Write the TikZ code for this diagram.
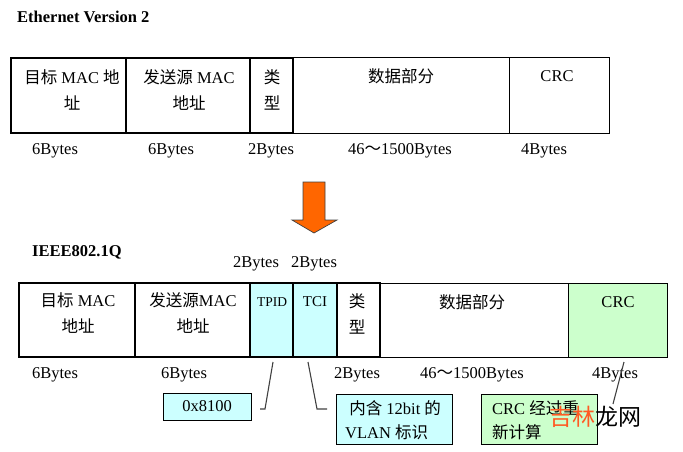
\documentclass[tikz,border=0pt]{standalone}
\usepackage{fontspec}
\setmainfont{Liberation Serif}
\newfontfamily\cjk{Noto Sans CJK SC}
\definecolor{lcyan}{HTML}{CCFFFF}
\definecolor{lgreen}{HTML}{CCFFCC}
\definecolor{arroworange}{HTML}{FF6600}
\definecolor{wmorange}{HTML}{FF5A23}
\definecolor{linegray}{HTML}{404040}
\begin{document}
\begin{tikzpicture}[x=1pt,y=-1pt,
  font=\fontsize{16.5}{26}\selectfont,
  fieldthick/.style={draw, line width=2.2pt, inner sep=0, outer sep=0, anchor=north west},
  fieldthin/.style={draw, line width=1pt, inner sep=0, outer sep=0, anchor=north west},
  calloutbox/.style={draw, line width=1pt, inner sep=0, outer sep=0, anchor=north west},
  lbl/.style={inner sep=0, align=center},
  conn/.style={draw=linegray, line width=1.1pt}]
\useasboundingbox (0,0) rectangle (683,452);

% titles
\node[lbl, anchor=west, font=\bfseries\fontsize{16.5}{20}\selectfont] (title1) at (17,16.5) {Ethernet Version 2};
\node[lbl, anchor=west, font=\bfseries\fontsize{16.5}{20}\selectfont] (title2) at (32,252) {IEEE802.1Q};

% ---- top frame ----
\node[fieldthin, minimum width=216pt, minimum height=75pt] (a4) at (293,58) {};
\node[fieldthin, minimum width=100pt, minimum height=75pt] (a5) at (509,58) {};
\node[fieldthick, minimum width=115pt, minimum height=75pt] (a1) at (11,58) {};
\node[fieldthick, minimum width=124pt, minimum height=75pt] (a2) at (126,58) {};
\node[fieldthick, minimum width=43pt, minimum height=75pt] (a3) at (250,58) {};

\node[lbl] (ta1) at (72,90) {{\cjk 目标} MAC {\cjk 地}\\{\cjk 址}};
\node[lbl] (ta2) at (189,90) {{\cjk 发送源} MAC\\{\cjk 地址}};
\node[lbl] (ta3) at (272,90) {{\cjk 类}\\{\cjk 型}};
\node[lbl] (ta4) at (401,76) {\cjk 数据部分};
\node[lbl] (ta5) at (557,76) {CRC};

\node[lbl] (la1) at (55,151) {6Bytes};
\node[lbl] (la2) at (171,151) {6Bytes};
\node[lbl] (la3) at (271,151) {2Bytes};
\node[lbl] (la4) at (400,151) {46{\cjk ～}1500Bytes};
\node[lbl] (la5) at (544,151) {4Bytes};

% ---- arrow ----
\draw[fill=arroworange, draw=gray!50!black, line width=0.7pt]
  (303,182) -- (325,182) -- (325,220) -- (337,220) -- (314,233) -- (292,220) -- (303,220) -- cycle;

% ---- bottom frame ----
\node[lbl] (lt1) at (256,264) {2Bytes};
\node[lbl] (lt2) at (314,264) {2Bytes};

\node[fieldthin, minimum width=188pt, minimum height=74pt] (b6) at (380,283) {};
\node[fieldthin, fill=lgreen, minimum width=99pt, minimum height=74pt] (b7) at (568,283) {};
\node[fieldthick, minimum width=116pt, minimum height=74pt] (b1) at (19,283) {};
\node[fieldthick, minimum width=115pt, minimum height=74pt] (b2) at (135,283) {};
\node[fieldthick, fill=lcyan, minimum width=43pt, minimum height=74pt] (b3) at (250,283) {};
\node[fieldthick, fill=lcyan, minimum width=44pt, minimum height=74pt] (b4) at (293,283) {};
\node[fieldthick, minimum width=43pt, minimum height=74pt] (b5) at (337,283) {};

\node[lbl] (tb1) at (78,313.5) {{\cjk 目标} MAC\\{\cjk 地址}};
\node[lbl] (tb2) at (193,313.5) {{\cjk 发送源}MAC\\{\cjk 地址}};
\node[lbl, font=\fontsize{13.5}{16}\selectfont] (tb3) at (272,302) {TPID};
\node[lbl, font=\fontsize{15}{18}\selectfont] (tb4) at (315,302) {TCI};
\node[lbl] (tb5) at (357,313.5) {{\cjk 类}\\{\cjk 型}};
\node[lbl] (tb6) at (472,302) {\cjk 数据部分};
\node[lbl] (tb7) at (618,302) {CRC};

\node[lbl] (lb1) at (55,375) {6Bytes};
\node[lbl] (lb2) at (184,375) {6Bytes};
\node[lbl] (lb5) at (357,375) {2Bytes};
\node[lbl] (lb6) at (472,375) {46{\cjk ～}1500Bytes};
\node[lbl] (lb7) at (615,375) {4Bytes};

% ---- callouts ----
\node[calloutbox, fill=lcyan, minimum width=88pt, minimum height=27pt] (c1) at (163,393) {};
\node[lbl] (tc1) at (207,406.5) {0x8100};
\node[calloutbox, fill=lcyan, minimum width=116pt, minimum height=50pt] (c2) at (336,394) {};
\node[lbl, anchor=west, align=left, font=\fontsize{16.5}{24}\selectfont] (tc2) at (345,420) {~{\cjk 内含} 12bit {\cjk 的}\\VLAN {\cjk 标识}};
\node[calloutbox, fill=lgreen, minimum width=116pt, minimum height=50pt] (c3) at (481,394) {};
\node[lbl, anchor=west, align=left, font=\fontsize{16.5}{24}\selectfont] (tc3) at (492,420) {CRC {\cjk 经过重}\\{\cjk 新计算}};

\coordinate (p1) at (265,409);
\coordinate (p2) at (260,409);
\coordinate (q1) at (317,409);
\coordinate (q2) at (327,409);
\coordinate (r1) at (613,404);
\draw[conn] ([xshift=1.5pt,yshift=-5pt]b3.south) -- (p1) -- (p2);
\draw[conn] ([xshift=-7pt,yshift=-5pt]b4.south) -- (q1) -- (q2);
\draw[conn] ([xshift=6.5pt,yshift=-5pt]b7.south) -- (r1);

% watermark
\node[inner sep=0, font=\cjk\fontsize{23}{23}\selectfont] (wm) at (595,417) {\textcolor{wmorange}{吉林}龙网};
\end{tikzpicture}
\end{document}
